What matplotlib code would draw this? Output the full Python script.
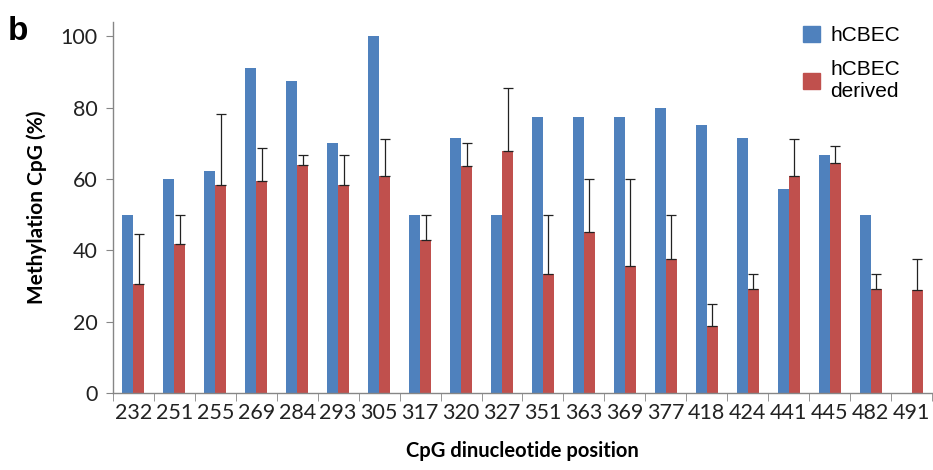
import numpy as np
import matplotlib.pyplot as plt
from matplotlib.patches import Patch

positions = ['232', '251', '255', '269', '284', '293', '305', '317', '320', '327',
             '351', '363', '369', '377', '418', '424', '441', '445', '482', '491']
hcbec = [50, 60, 62.3, 91, 87.5, 70, 100, 50, 71.4, 50,
         77.5, 77.5, 77.5, 80, 75, 71.4, 57.1, 66.7, 50, 0]
derived = [30.5, 41.7, 58.3, 59.4, 64, 58.3, 60.7, 42.9, 63.6, 67.9,
           33.3, 45, 35.7, 37.5, 18.8, 29.2, 60.7, 64.6, 29.2, 28.8]
derived_err = [14, 8.3, 20, 9.3, 2.7, 8.4, 10.5, 7.1, 6.4, 17.6,
               16.7, 15, 24.3, 12.5, 6.2, 4.1, 10.5, 4.6, 4.1, 8.7]

blue = '#4F81BD'
red = '#C0504D'
axcol = '#868686'

fig = plt.figure(figsize=(9.33, 4.70), dpi=100)
ax = fig.add_axes([0.121, 0.164, 0.878, 0.789])

x = np.arange(len(positions))
w = 0.27
ax.bar(x - w / 2, hcbec, w, color=blue, label='hCBEC')
ax.bar(x + w / 2, derived, w, color=red, label='hCBEC\nderived')
ax.errorbar(x + w / 2, derived, yerr=[np.zeros(len(derived)), derived_err],
            fmt='none', ecolor='#222222', elinewidth=0.9, capsize=3.5, capthick=0.9)

ax.set_xlim(-0.5, len(positions) - 0.5)
ax.set_ylim(0, 104)
ax.set_yticks([0, 20, 40, 60, 80, 100])

ax.set_xticks(x)
ax.set_xticklabels(positions)
ax.set_xticks(np.arange(len(positions) + 1) - 0.5, minor=True)
ax.tick_params(axis='x', which='major', length=0, pad=7)
ax.tick_params(axis='x', which='minor', length=6, color=axcol, direction='out')
ax.tick_params(axis='y', length=5, color=axcol, direction='out', pad=6)

for lab in ax.get_xticklabels() + ax.get_yticklabels():
    lab.set_family(['Lato', 'DejaVu Sans'])
    lab.set_fontsize(15.5)
    lab.set_color('#222222')

for s in ['top', 'right']:
    ax.spines[s].set_visible(False)
for s in ['left', 'bottom']:
    ax.spines[s].set_color(axcol)
    ax.spines[s].set_linewidth(1)

ax.set_ylabel('Methylation CpG (%)', fontsize=15, fontweight='bold', labelpad=10,
              family=['Lato', 'DejaVu Sans'])
ax.set_xlabel('CpG dinucleotide position', fontsize=14.5, fontweight='bold', labelpad=13,
              family=['Lato', 'DejaVu Sans'])

handles = [Patch(color=blue), Patch(color=red)]
leg = ax.legend(handles, ['hCBEC', 'hCBEC\nderived'], loc='upper left',
                bbox_to_anchor=(0.82, 1.04), frameon=False,
                prop={'family': ['Liberation Sans', 'DejaVu Sans'], 'size': 15},
                handlelength=0.8, handleheight=0.8, handletextpad=0.5, labelspacing=0.7)

fig.text(0.008, 0.965, 'b', fontsize=24, fontweight='bold', va='top',
         family=['Liberation Sans', 'DejaVu Sans'])

fig.savefig('out.png', dpi=100)
